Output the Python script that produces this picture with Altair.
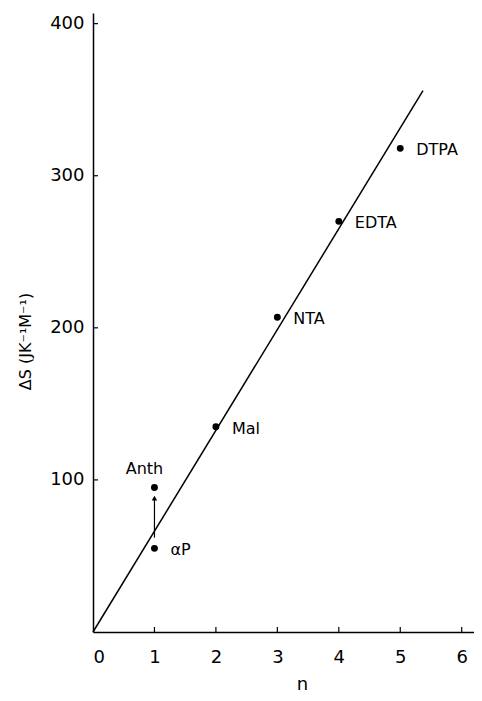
import altair as alt
import pandas as pd

# data
n_vals = [1, 1, 2, 3, 4, 5]
ds_vals = [55, 95, 135, 207, 270, 318]
names = ["αP", "Anth", "Mal", "NTA", "EDTA", "DTPA"]
right_labels = ["αP", "Mal", "NTA", "EDTA", "DTPA"]
top_labels = ["Anth"]

fit_n = [0, 5.37]
fit_ds = [0, 356]

arrow_n = [1, 1]
arrow_ds = [62, 88]

x_ticks = [0, 1, 2, 3, 4, 5, 6]
y_ticks = [100, 200, 300, 400]

W, H = 381, 619
FONT = "DejaVu Sans"

pts = pd.DataFrame({"n": n_vals, "ds": ds_vals, "name": names})
fit = pd.DataFrame({"n": fit_n, "ds": fit_ds})
arrow = pd.DataFrame({"n": arrow_n, "ds": arrow_ds})
xt = pd.DataFrame({"n": x_ticks[1:]})
yt = pd.DataFrame({"ds": y_ticks})

xs = alt.Scale(domain=[0, 6.2], nice=False, zero=False)
ys = alt.Scale(domain=[0, 407], nice=False, zero=False)

x_axis = alt.Axis(
    values=x_ticks, format="d", title="n", grid=False, ticks=False, domainColor="black",
    domainWidth=1.5, labelFont=FONT, labelFontSize=18, labelColor="black",
    labelPadding=16, titleFont=FONT, titleFontSize=18, titleFontWeight="normal",
    titleColor="black", titleX=209, titleY=52, titleBaseline="middle",
)
y_axis = alt.Axis(
    values=y_ticks, format="d", title="ΔS (JK⁻¹M⁻¹)", grid=False, ticks=False,
    domainColor="black", domainWidth=1.5, labelFont=FONT, labelFontSize=18,
    labelColor="black", labelPadding=9, titleFont=FONT, titleFontSize=16,
    titleFontWeight="normal", titleColor="black", titleX=-68, titleY=328,
    titleBaseline="middle",
)

base = alt.Chart(pts)

fit_line = alt.Chart(fit).mark_line(color="black", strokeWidth=1.5).encode(
    x=alt.X("n:Q", scale=xs, axis=x_axis),
    y=alt.Y("ds:Q", scale=ys, axis=y_axis),
)

dots = base.mark_point(filled=True, color="black", size=48, opacity=1).encode(
    x=alt.X("n:Q", scale=xs), y=alt.Y("ds:Q", scale=ys)
)

lab_right = base.transform_filter(
    alt.FieldOneOfPredicate(field="name", oneOf=right_labels)
).mark_text(
    align="left", baseline="middle", dx=16, dy=2, font=FONT, fontSize=16, color="black"
).encode(x=alt.X("n:Q", scale=xs), y=alt.Y("ds:Q", scale=ys), text="name:N")

lab_top = base.transform_filter(
    alt.FieldOneOfPredicate(field="name", oneOf=top_labels)
).mark_text(
    align="center", baseline="middle", dx=-10, dy=-19, font=FONT, fontSize=16, color="black"
).encode(x=alt.X("n:Q", scale=xs), y=alt.Y("ds:Q", scale=ys), text="name:N")

arrow_line = alt.Chart(arrow).mark_line(color="black", strokeWidth=1.2).encode(
    x=alt.X("n:Q", scale=xs), y=alt.Y("ds:Q", scale=ys)
)
arrow_head = alt.Chart(arrow.tail(1)).mark_point(
    shape="triangle-up", filled=True, color="black", size=30, opacity=1
).encode(x=alt.X("n:Q", scale=xs), y=alt.Y("ds:Q", scale=ys))

xtick_marks = alt.Chart(xt).mark_rule(color="black", strokeWidth=1.2).encode(
    x=alt.X("n:Q", scale=xs), y=alt.value(H), y2=alt.value(H - 5)
)
ytick_marks = alt.Chart(yt).mark_rule(color="black", strokeWidth=1.2).encode(
    y=alt.Y("ds:Q", scale=ys), x=alt.value(0), x2=alt.value(5)
)

chart = alt.layer(
    fit_line, xtick_marks, ytick_marks, arrow_line, arrow_head, dots, lab_right, lab_top
).properties(
    width=W, height=H,
    autosize=alt.AutoSizeParams(type="none"),
    padding={"left": 85, "top": 5, "right": 0, "bottom": 64},
).configure(background="white", view=alt.ViewConfig(stroke=None))

chart.save("out.html", embed_options={"renderer": "svg", "actions": False})
